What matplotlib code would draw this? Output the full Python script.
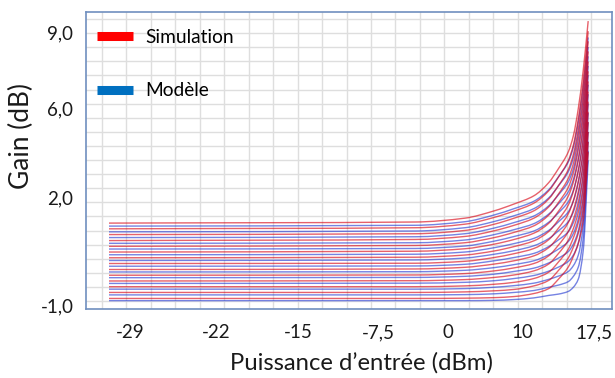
import numpy as np
import matplotlib
matplotlib.use("Agg")
import matplotlib.pyplot as plt
from matplotlib.lines import Line2D
from matplotlib.path import Path
from matplotlib.patches import PathPatch

plt.rcParams['font.family'] = ['Lato', 'DejaVu Sans']

# ---------------- data ----------------
input_power_dbm = [-31, 0, 5, 8, 10, 12, 13.5, 14.5, 15.5, 16.0, 16.5, 17.0, 17.5]

# Simulation curves (gain in dB at each input power)
sim_gain = [
    [2.00, 2.04, 2.18, 2.45, 2.70, 3.00, 3.48, 4.00, 4.62, 5.20, 6.20, 7.60, 9.40],
    [1.79, 1.83, 1.96, 2.21, 2.44, 2.73, 3.18, 3.69, 4.30, 4.86, 5.82, 7.18, 9.03],
    [1.58, 1.61, 1.73, 1.96, 2.18, 2.45, 2.88, 3.38, 3.97, 4.52, 5.44, 6.76, 8.66],
    [1.36, 1.40, 1.51, 1.72, 1.92, 2.18, 2.59, 3.07, 3.65, 4.18, 5.06, 6.33, 8.29],
    [1.15, 1.18, 1.28, 1.47, 1.66, 1.90, 2.29, 2.76, 3.32, 3.84, 4.68, 5.91, 7.92],
    [0.94, 0.97, 1.06, 1.23, 1.40, 1.63, 1.99, 2.44, 3.00, 3.50, 4.30, 5.49, 7.56],
    [0.73, 0.75, 0.83, 0.98, 1.14, 1.35, 1.69, 2.13, 2.67, 3.16, 3.92, 5.06, 7.19],
    [0.52, 0.53, 0.60, 0.74, 0.88, 1.07, 1.39, 1.82, 2.35, 2.82, 3.54, 4.64, 6.82],
    [0.30, 0.32, 0.38, 0.50, 0.62, 0.80, 1.10, 1.51, 2.03, 2.48, 3.16, 4.22, 6.45],
    [0.09, 0.10, 0.15, 0.25, 0.36, 0.52, 0.80, 1.20, 1.70, 2.14, 2.78, 3.80, 6.08],
    [-0.12, -0.11, -0.07, 0.01, 0.10, 0.25, 0.50, 0.89, 1.38, 1.80, 2.40, 3.37, 5.71],
    [-0.33, -0.33, -0.30, -0.24, -0.17, -0.03, 0.20, 0.58, 1.05, 1.46, 2.02, 2.95, 5.34],
    [-0.54, -0.54, -0.52, -0.48, -0.43, -0.30, -0.10, 0.27, 0.73, 1.12, 1.63, 2.53, 4.97],
    [-0.76, -0.76, -0.75, -0.73, -0.69, -0.58, -0.40, -0.05, 0.40, 0.78, 1.25, 2.10, 4.60],
]

# Model curves (gain in dB at each input power)
model_gain = [
    [1.89, 1.92, 2.05, 2.30, 2.53, 2.80, 3.22, 3.70, 4.25, 4.78, 5.70, 7.00, 8.80],
    [1.68, 1.71, 1.83, 2.06, 2.27, 2.53, 2.92, 3.37, 3.89, 4.39, 5.26, 6.54, 8.45],
    [1.47, 1.50, 1.61, 1.82, 2.02, 2.26, 2.63, 3.04, 3.52, 3.99, 4.82, 6.08, 8.11],
    [1.26, 1.28, 1.38, 1.58, 1.76, 1.98, 2.33, 2.71, 3.15, 3.60, 4.37, 5.62, 7.76],
    [1.05, 1.07, 1.16, 1.34, 1.51, 1.71, 2.03, 2.38, 2.79, 3.20, 3.93, 5.15, 7.42],
    [0.84, 0.86, 0.94, 1.10, 1.25, 1.44, 1.73, 2.05, 2.42, 2.81, 3.49, 4.69, 7.07],
    [0.63, 0.65, 0.72, 0.86, 0.99, 1.17, 1.43, 1.72, 2.06, 2.41, 3.05, 4.23, 6.72],
    [0.42, 0.43, 0.49, 0.62, 0.74, 0.89, 1.14, 1.39, 1.69, 2.02, 2.60, 3.77, 6.38],
    [0.21, 0.22, 0.27, 0.37, 0.48, 0.62, 0.84, 1.05, 1.33, 1.62, 2.16, 3.31, 6.03],
    [0.00, 0.01, 0.05, 0.13, 0.23, 0.35, 0.54, 0.72, 0.96, 1.23, 1.72, 2.85, 5.69],
    [-0.21, -0.20, -0.17, -0.11, -0.03, 0.08, 0.24, 0.39, 0.60, 0.83, 1.28, 2.39, 5.34],
    [-0.42, -0.42, -0.40, -0.35, -0.29, -0.20, -0.06, 0.06, 0.23, 0.44, 0.83, 1.92, 4.99],
    [-0.63, -0.63, -0.62, -0.59, -0.54, -0.47, -0.35, -0.27, -0.14, 0.05, 0.39, 1.46, 4.65],
    [-0.84, -0.84, -0.84, -0.83, -0.80, -0.74, -0.65, -0.60, -0.50, -0.35, -0.05, 1.00, 4.30],
]

x_tick_labels = ["-29", "-22", "-15", "-7,5", "0", "10", "17,5"]
y_tick_labels = ["-1,0", "2,0", "6,0", "9,0"]
series_names = ["Simulation", "Modèle"]

# ---------------- layout ----------------
W, H = 615, 378
fig = plt.figure(figsize=(W / 100, H / 100), dpi=100)
ax_l, ax_r, ax_t, ax_b = 86, 612, 12, 309
ax = fig.add_axes([ax_l / W, 1 - ax_b / H, (ax_r - ax_l) / W, (ax_b - ax_t) / H])

# pixel <-> data mapping of the reference
px_per_db_x = 9.88
x0_px, x0_val = 109, -31.0
py_per_db = 27.3
y0_py, y0_val = 32, 9.0


def xval(px):
    return x0_val + (px - x0_px) / px_per_db_x


def yval(py):
    return y0_val - (py - y0_py) / py_per_db


ax.set_xlim(xval(ax_l), xval(ax_r))
ax.set_ylim(yval(ax_b), yval(ax_t))


def smooth_path(xs, ys):
    """Smoothed line (as in a spreadsheet 'smoothed line'): cubic Bezier
    segments passing through every data point (monotone tangents)."""
    xs = np.asarray(xs, float)
    ys = np.asarray(ys, float)
    n = len(xs)
    h = np.diff(xs)
    delta = np.diff(ys) / h
    d = np.zeros(n)
    d[0] = delta[0]
    d[-1] = delta[-1]
    for i in range(1, n - 1):
        if delta[i - 1] * delta[i] > 0:
            w1 = 2 * h[i] + h[i - 1]
            w2 = h[i] + 2 * h[i - 1]
            d[i] = (w1 + w2) / (w1 / delta[i - 1] + w2 / delta[i])
    verts = [(xs[0], ys[0])]
    codes = [Path.MOVETO]
    for i in range(n - 1):
        verts += [(xs[i] + h[i] / 3, ys[i] + d[i] * h[i] / 3),
                  (xs[i + 1] - h[i] / 3, ys[i + 1] - d[i + 1] * h[i] / 3),
                  (xs[i + 1], ys[i + 1])]
        codes += [Path.CURVE4] * 3
    return Path(verts, codes)


# curves
for g in model_gain:
    ax.add_patch(PathPatch(smooth_path(input_power_dbm, g), fill=False,
                           edgecolor='#1a30d0', lw=1.0, alpha=0.6, zorder=2))
for g in sim_gain:
    ax.add_patch(PathPatch(smooth_path(input_power_dbm, g), fill=False,
                           edgecolor='#d80010', lw=1.0, alpha=0.62, zorder=3))

# grid
for px in np.arange(102, 612, 24.45):
    ax.axvline(xval(px), color='#dedede', lw=1.0, zorder=0)
for py in np.arange(19, 309, 14.1):
    ax.axhline(yval(py), color='#dedede', lw=1.0, zorder=0)

# ticks
x_label_px = [130, 216, 298, 378, 448, 522, 594]
ax.set_xticks([xval(p) for p in x_label_px])
ax.set_xticklabels(x_tick_labels)
y_label_py = [305, 197, 108, 32]
ax.set_yticks([yval(p) for p in y_label_py])
ax.set_yticklabels(y_tick_labels)
ax.tick_params(axis='both', length=0, labelsize=13.5, colors='#1a1a1a')
ax.tick_params(axis='x', pad=11)
ax.tick_params(axis='y', pad=9)

for s in ax.spines.values():
    s.set_color('#6f8fbf')
    s.set_linewidth(1.2)

# axis titles
fig.text(361 / W, 1 - 363 / H, "Puissance d’entrée (dBm)", ha='center', va='center',
         fontsize=17.2, color='#1a1a1a')
fig.text(21 / W, 1 - 136 / H, "Gain (dB)", ha='center', va='center', rotation=90,
         fontsize=19, color='#1a1a1a')

# legend
handles = [Line2D([], [], color='#ff0000', lw=6.5, solid_capstyle='butt'),
           Line2D([], [], color='#0070c0', lw=6.5, solid_capstyle='butt')]
leg = ax.legend(handles, series_names, loc='upper left',
                bbox_to_anchor=((97 - ax_l) / (ax_r - ax_l), (ax_b - 29) / (ax_b - ax_t)),
                frameon=False, fontsize=13.8, handlelength=1.88, handletextpad=0.65,
                labelspacing=1.9, borderpad=0, borderaxespad=0)

fig.savefig("out.png", dpi=100)
